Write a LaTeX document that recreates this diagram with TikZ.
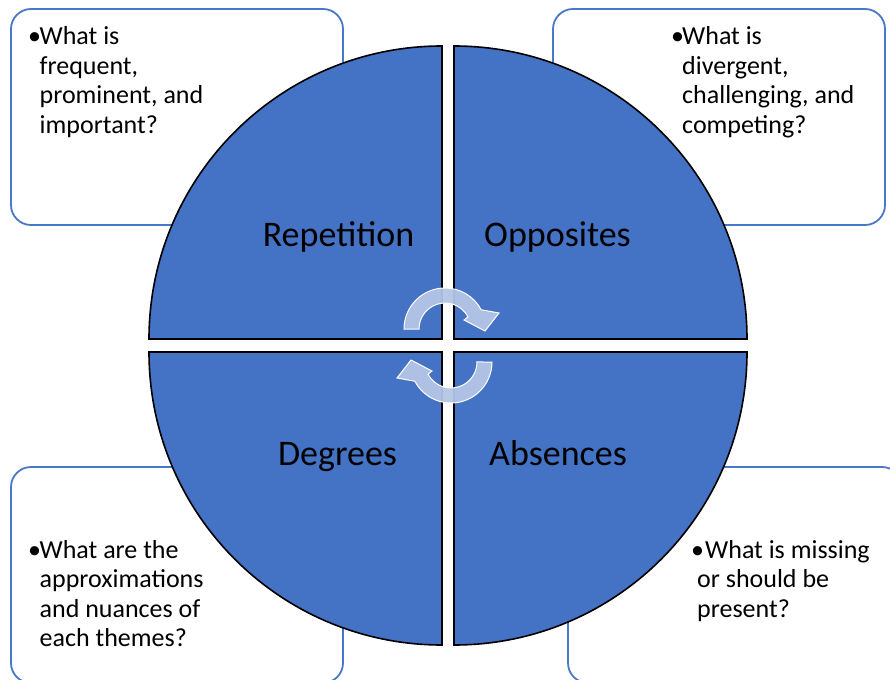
\documentclass[tikz,border=0pt]{standalone}
\usepackage{fontspec}
\setmainfont{Carlito}
\definecolor{quadblue}{HTML}{4472C4}
\definecolor{boxblue}{HTML}{4A78C8}
\definecolor{arrowfill}{HTML}{B4C5E6}

\begin{document}
\begin{tikzpicture}[x=1pt, y=-1pt,
  notebox/.style={draw=boxblue, line width=1.8pt, fill=white, rounded corners=20pt},
  quad/.style={draw=black, line width=1.6pt, fill=quadblue},
  cyclearrow/.style={fill=arrowfill, draw=white, line width=1pt, fill opacity=0.95},
  quadlabel/.style={font=\fontsize{36}{40}\selectfont, inner sep=0pt, anchor=base},
  notetext/.style={font=\fontsize{26}{29.5}\selectfont, inner sep=0pt, anchor=base west, text width=200pt, align=flush left},
  dot/.style={font=\fontsize{26}{29.5}\selectfont, inner sep=0pt, anchor=base west}]
\useasboundingbox (0,0) rectangle (890,679);

% corner boxes
\draw[notebox] (11,9) rectangle (343,225);
\draw[notebox] (553,9) rectangle (885,225);
\draw[notebox] (11,467) rectangle (343,683);
\draw[notebox] (568,467) rectangle (902,683);

% the four quarters
\draw[quad] (442,339) -- ++(-293,0) arc[start angle=180, end angle=270, radius=293] -- cycle;
\draw[quad] (454,339) -- ++(0,-293) arc[start angle=270, end angle=360, radius=293] -- cycle;
\draw[quad] (454,352) -- ++(293,0) arc[start angle=0, end angle=90, radius=293] -- cycle;
\draw[quad] (442,352) -- ++(0,293) arc[start angle=90, end angle=180, radius=293] -- cycle;

\node[quadlabel] (rep) at (338.5,246) {Repetition};
\node[quadlabel] (opp) at (557.5,246) {Opposites};
\node[quadlabel] (deg) at (337.5,465) {Degrees};
\node[quadlabel] (abs) at (558,465) {Absences};

% arrows in the middle
\foreach \turnangle in {0,180}
  \draw[cyclearrow, rotate around={\turnangle:(448,345.5)}]
    (404,329) arc[start angle=180, end angle=332, radius=41]
    -- (499,313) -- (485,331) -- (464,320) -- (468,316.8)
    arc[start angle=332, end angle=180, radius=26] -- cycle;

% questions
\node[dot] (tlDot) at (28,45) {\textbullet};
\node[notetext] (tlText) at (39.5,45) {What is\\frequent,\\prominent, and\\important?};
\node[dot] (trDot) at (671,45) {\textbullet};
\node[notetext] (trText) at (682,45) {What is\\divergent,\\challenging, and\\competing?};
\node[dot] (blDot) at (28,558) {\textbullet};
\node[notetext] (blText) at (39.5,558) {What are the\\approximations\\and nuances of\\each themes?};
\node[dot] (brDot) at (691,558) {\textbullet};
\node[notetext] (brText) at (697,558) {\hspace*{8pt}What is missing\\or should be\\present?};
\end{tikzpicture}
\end{document}
